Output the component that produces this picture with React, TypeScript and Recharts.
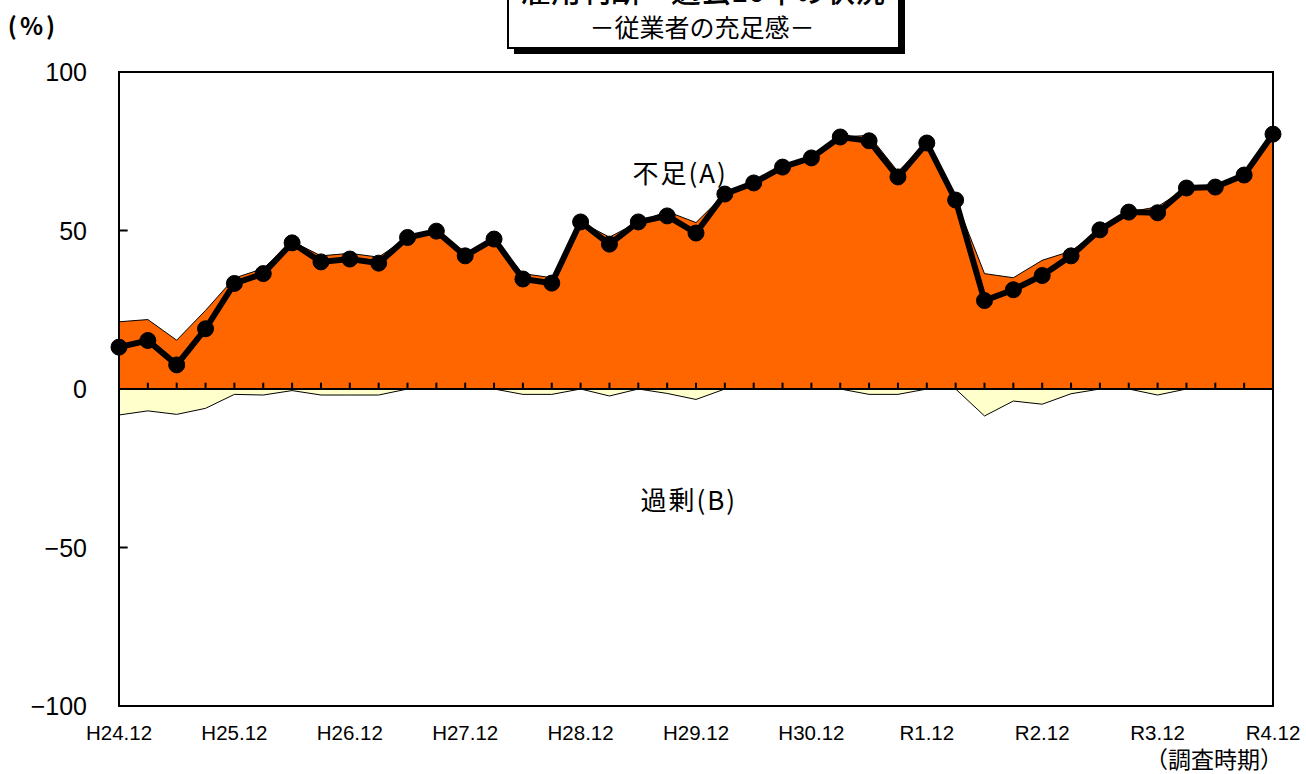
import React from "react";
import {
  ComposedChart,
  Area,
  Line,
  XAxis,
  YAxis,
  ReferenceLine,
  ReferenceArea,
  ReferenceDot,
} from "recharts";

const periods = [
  "H24.12", "H25.3", "H25.6", "H25.9", "H25.12", "H26.3", "H26.6", "H26.9", "H26.12",
  "H27.3", "H27.6", "H27.9", "H27.12", "H28.3", "H28.6", "H28.9", "H28.12",
  "H29.3", "H29.6", "H29.9", "H29.12", "H30.3", "H30.6", "H30.9", "H30.12",
  "H31.3", "R1.6", "R1.9", "R1.12", "R2.3", "R2.6", "R2.9", "R2.12",
  "R3.3", "R3.6", "R3.9", "R3.12", "R4.3", "R4.6", "R4.9", "R4.12",
];

const shortage = [
  21.2, 21.9, 15.4, 24.8, 35.0, 38.0, 46.6, 42.0, 42.8, 41.6,
  47.8, 49.8, 42.0, 47.3, 36.4, 35.1, 52.7, 47.9, 52.7, 56.0,
  52.5, 61.5, 65.0, 70.0, 72.9, 79.5, 80.0, 68.6, 77.6, 59.6,
  36.4, 35.1, 40.6, 43.5, 50.2, 55.8, 57.5, 63.4, 63.7, 67.5, 80.4,
];

const surplus = [
  -8.2, -6.9, -8.0, -6.1, -1.7, -1.9, -0.5, -1.9, -1.9, -1.9,
  0, 0, 0, 0, -1.7, -1.7, 0, -2.2, 0, -1.4,
  -3.3, 0, 0, 0, 0, 0, -1.7, -1.7, 0, 0,
  -8.5, -3.8, -4.8, -1.5, 0, 0, -1.9, 0, 0, 0, 0,
];

const netDI = [
  13.2, 15.3, 7.6, 19.0, 33.3, 36.4, 46.1, 40.1, 41.0, 39.7,
  47.8, 49.8, 42.0, 47.3, 34.7, 33.4, 52.7, 45.7, 52.7, 54.6,
  49.2, 61.5, 65.0, 70.0, 72.9, 79.5, 78.3, 66.9, 77.6, 59.6,
  27.9, 31.3, 35.8, 42.0, 50.2, 55.8, 55.6, 63.4, 63.7, 67.5, 80.4,
];

const xTicks = [0, 4, 8, 12, 16, 20, 24, 28, 32, 36, 40];
const xTickLabels = [
  "H24.12", "H25.12", "H26.12", "H27.12", "H28.12", "H29.12",
  "H30.12", "R1.12", "R2.12", "R3.12", "R4.12",
];
const yTicks = [-100, -50, 0, 50, 100];
const yTickLabels = ["−100", "−50", "0", "50", "100"];

const titleLine1 = "雇用判断・過去10年の状況";
const titleLine2 = "－従業者の充足感－";
const labelShortage = "不足(A)";
const labelSurplus = "過剰(B)";
const unitLabel = "(%)";
const xAxisTitle = "（調査時期）";

const data = periods.map((p, i) => ({
  i,
  period: p,
  a: shortage[i],
  b: surplus[i],
  di: netDI[i],
}));

const NUM_FONT = "'Liberation Sans', Arial, sans-serif";
const JP_FONT = "'Noto Sans CJK JP', sans-serif";

const XTick = (props: any) => {
  const { x, y, payload } = props;
  const idx = xTicks.indexOf(payload.value);
  return (
    <text
      x={x}
      y={y + 28}
      textAnchor="middle"
      fontSize={20.5}
      fontFamily={NUM_FONT}
      fill="#000"
    >
      {idx >= 0 ? xTickLabels[idx] : ""}
    </text>
  );
};

const YTick = (props: any) => {
  const { x, y, payload } = props;
  const idx = yTicks.indexOf(payload.value);
  return (
    <text
      x={x - 26}
      y={y + 9}
      textAnchor="end"
      fontSize={25}
      fontFamily={NUM_FONT}
      fill="#000"
    >
      {idx >= 0 ? yTickLabels[idx] : ""}
    </text>
  );
};

const makeTextShape = (text: string) => (props: any) => (
  <text
    x={props.cx}
    y={props.cy}
    textAnchor="middle"
    dominantBaseline="central"
    fontSize={26}
    letterSpacing={2}
    fontFamily={JP_FONT}
    fill="#000"
  >
    {text}
  </text>
);

export default function App() {
  const zeroTicks = data.slice(1, 40).map((d) => d.i);
  return (
    <div
      style={{
        position: "absolute",
        left: 0,
        top: 0,
        width: 1306,
        height: 774,
        background: "#fff",
        overflow: "hidden",
      }}
    >
      <ComposedChart
        width={1306}
        height={774}
        data={data}
        margin={{ top: 72, right: 33, bottom: 38, left: 59 }}
      >
        <XAxis
          type="number"
          dataKey="i"
          domain={[0, 40]}
          ticks={xTicks}
          interval={0}
          axisLine={false}
          tickLine={false}
          tickMargin={0}
          height={30}
          tick={<XTick />}
        />
        <YAxis
          type="number"
          domain={[-100, 100]}
          ticks={yTicks}
          interval={0}
          axisLine={false}
          tickLine={false}
          tickMargin={0}
          width={60}
          tick={<YTick />}
        />
        <Area
          type="linear"
          dataKey="a"
          fill="#FF6600"
          fillOpacity={1}
          stroke="#000"
          strokeWidth={1}
          isAnimationActive={false}
          dot={false}
          activeDot={false}
        />
        <Area
          type="linear"
          dataKey="b"
          fill="#FFFFCC"
          fillOpacity={1}
          stroke="#000"
          strokeWidth={1}
          isAnimationActive={false}
          dot={false}
          activeDot={false}
        />
        <ReferenceLine y={0} stroke="#000" strokeWidth={2} />
        {zeroTicks.map((t) => (
          <ReferenceLine
            key={"zt" + t}
            segment={[
              { x: t, y: 0 },
              { x: t, y: 2 },
            ]}
            stroke="#000"
            strokeWidth={2}
          />
        ))}
        {[50, -50].map((v) => (
          <ReferenceLine
            key={"yt" + v}
            segment={[
              { x: 0, y: v },
              { x: 0.3, y: v },
            ]}
            stroke="#000"
            strokeWidth={2}
          />
        ))}
        <ReferenceArea
          x1={0}
          x2={40}
          y1={-100}
          y2={100}
          fill="none"
          fillOpacity={0}
          stroke="#000"
          strokeWidth={2}
        />
        <ReferenceDot
          x={19.45}
          y={68.5}
          r={0}
          shape={makeTextShape(labelShortage)}
        />
        <ReferenceDot
          x={19.75}
          y={-34.6}
          r={0}
          shape={makeTextShape(labelSurplus)}
        />
        <Line
          type="linear"
          dataKey="di"
          stroke="#000"
          strokeWidth={6}
          dot={{ r: 8, fill: "#000", stroke: "#000", strokeWidth: 1 }}
          activeDot={false}
          isAnimationActive={false}
        />
      </ComposedChart>
      <svg
        width={1306}
        height={774}
        style={{ position: "absolute", left: 0, top: 0, pointerEvents: "none" }}
      >
        <rect x={514} y={-40} width={391} height={94} fill="#000" />
        <rect
          x={508}
          y={-46}
          width={391}
          height={94}
          fill="#fff"
          stroke="#000"
          strokeWidth={2}
        />
        <text
          x={703}
          y={2}
          textAnchor="middle"
          fontSize={30}
          fontWeight={500}
          fontFamily={JP_FONT}
          fill="#000"
        >
          {titleLine1}
        </text>
        <text
          x={702}
          y={37}
          textAnchor="middle"
          fontSize={25}
          fontFamily={JP_FONT}
          fill="#000"
        >
          {titleLine2}
        </text>
        <text
          x={33}
          y={35}
          textAnchor="middle"
          fontSize={24}
          fontWeight={700}
          letterSpacing={3}
          fontFamily={JP_FONT}
          fill="#000"
        >
          {unitLabel}
        </text>
        <text
          x={1214}
          y={768}
          textAnchor="middle"
          fontSize={23}
          fontFamily={JP_FONT}
          fill="#000"
        >
          {xAxisTitle}
        </text>
      </svg>
    </div>
  );
}
